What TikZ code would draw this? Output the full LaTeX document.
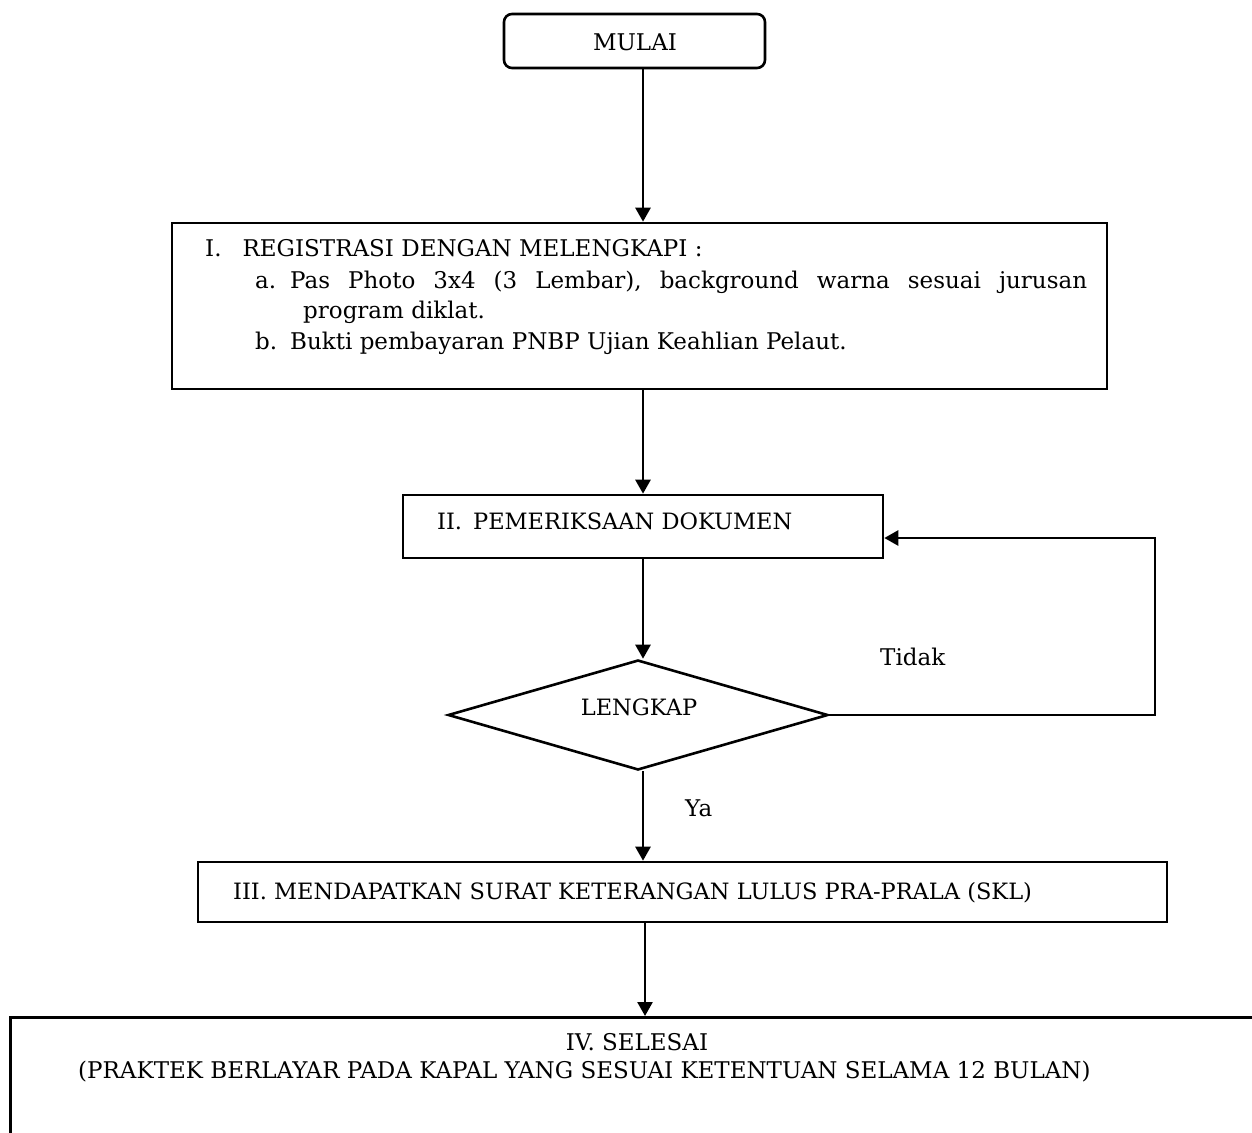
\documentclass[tikz,border=0pt]{standalone}
\usepackage{fontspec}
\setmainfont{DejaVu Serif}
\usetikzlibrary{arrows.meta,shapes.geometric}
\frenchspacing
\begin{document}
\begin{tikzpicture}[x=1pt,y=-1pt,
  box/.style={draw,line width=2.6pt,rectangle,inner sep=0pt},
  arr/.style={line width=2.6pt,-{Triangle[length=14pt,width=15pt]}},
  txt/.style={inner sep=0pt,font=\fontsize{23}{27}\selectfont},
  txts/.style={inner sep=0pt,font=\fontsize{22.5}{27}\selectfont}]
\useasboundingbox (0,0) rectangle (1252,1132);
\clip (0,0) rectangle (1252,1132);
\fill[white] (0,0) rectangle (1252,1132);
% nodes
\node[box,rounded corners=8pt,minimum width=261pt,minimum height=54pt] (start) at (634.5,41) {};
\node[txt,anchor=base] (startt) at (635,51) {MULAI};
\node[box,minimum width=935pt,minimum height=166pt] (reg) at (639.5,306) {};
\node[txt,anchor=base west] (r1) at (205,256) {I.\hspace{21pt}REGISTRASI DENGAN MELENGKAPI :};
\node[txt,anchor=base west] (r2) at (255,288) {\makebox[22pt][l]{a.}\hspace{13pt}\makebox[797pt][s]{Pas Photo 3x4 (3 Lembar), background warna sesuai jurusan}};
\node[txt,anchor=base west] (r3) at (303,318) {program diklat.};
\node[txt,anchor=base west] (r4) at (255,349) {\makebox[22pt][l]{b.}\hspace{13pt}Bukti pembayaran PNBP Ujian Keahlian Pelaut.};
\node[box,minimum width=480pt,minimum height=63pt] (check) at (643,526.5) {};
\node[txts,anchor=base west] (checkt) at (437,529) {II.\hspace{11pt}PEMERIKSAAN DOKUMEN};
\node[draw,line width=2.6pt,diamond,minimum width=380pt,minimum height=110pt,inner sep=0pt] (dec) at (638,715) {};
\node[txts,anchor=base] (dect) at (639,715) {LENGKAP};
\node[txt,anchor=base west] (tidak) at (880,665) {Tidak};
\node[txt,anchor=base west] (ya) at (685,816) {Ya};
\node[box,minimum width=969pt,minimum height=60pt] (skl) at (682.5,892) {};
\node[txts,anchor=base west] (sklt) at (233,899) {III. MENDAPATKAN SURAT KETERANGAN LULUS PRA-PRALA (SKL)};
\node[box,minimum width=1253pt,minimum height=126pt,anchor=north west] (end) at (9,1016) {};
\node[txt,anchor=base] (end1) at (637,1050) {IV. SELESAI};
\node[txt,anchor=base west] (end2) at (78,1078) {(PRAKTEK BERLAYAR PADA KAPAL YANG SESUAI KETENTUAN SELAMA 12 BULAN)};
% coordinates
\coordinate (ax) at (643,0);
\coordinate (ax2) at (645,0);
\coordinate (loopc) at (1155,538);
% connectors
\draw[arr] (start.south -| ax) -- (reg.north -| ax);
\draw[arr] (reg.south -| ax) -- (check.north -| ax);
\draw[arr] (check.south -| ax) -- (dec.north -| ax);
\draw[arr] (dec.south -| ax) -- (skl.north -| ax);
\draw[arr] (skl.south -| ax2) -- (end.north -| ax2);
\draw[arr] (dec.east) -- (dec.east -| loopc) -- (loopc) -- (check.east |- loopc);
\end{tikzpicture}
\end{document}
